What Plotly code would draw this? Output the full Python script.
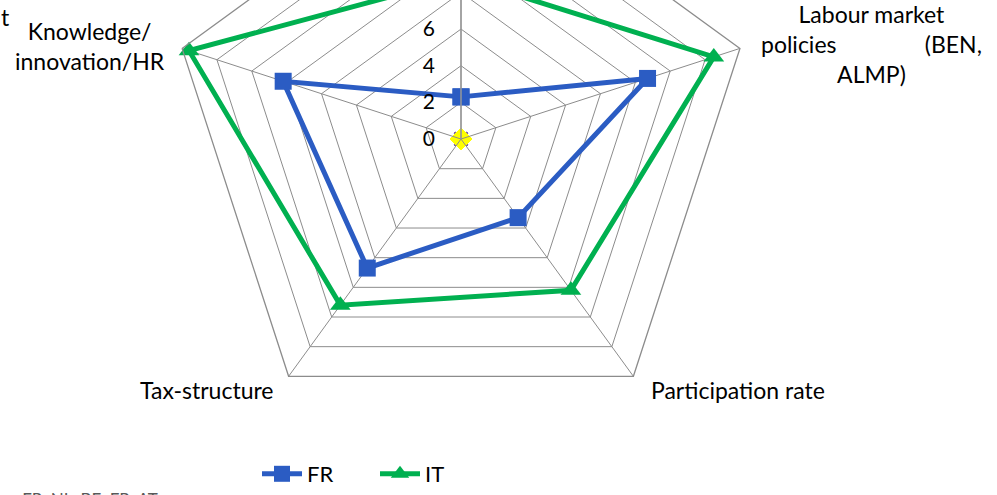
import plotly.graph_objects as go

# ---- data ----
categories = ["Wage-setting", "Labour market policies (BEN, ALMP)",
              "Participation rate", "Tax-structure", "Knowledge/innovation/HR"]
fr_values = [2.3, 10.7, 5.3, 8.7, 10.2]
it_values = [8.8, 14.5, 10.2, 11.2, 15.6]
ref_values = [0, 0, 0, 0, 0]
radial_ticks = [0, 2, 4, 6, 8, 10, 12, 14, 16]
R_MAX = 16

# category label texts as drawn (line-broken)
NB = "\u00a0"
label_texts = {
    "Labour market policies (BEN, ALMP)": "Labour market<br>policies" + NB * 15 + "(BEN,<br>ALMP)",
    "Participation rate": "Participation rate",
    "Tax-structure": "Tax-structure",
    "Knowledge/innovation/HR": "Knowledge/<br>innovation/HR",
}
# label centres in window pixels
label_pos = {
    "Labour market policies (BEN, ALMP)": (871, 45),
    "Participation rate": (738, 393),
    "Tax-structure": (207, 393),
    "Knowledge/innovation/HR": (90, 47.5),
}

OFFSET = 200          # part of the figure hidden above the window
W, H = 997, 495 + OFFSET
CX, CY, R = 461, 141 + OFFSET, 295

FONT = "Lato"
GRID = "#8c8c8c"
LBL = 23

dom_x = [(CX - R) / W, (CX + R) / W]
dom_y = [(H - CY - R) / H, (H - CY + R) / H]

def closed(v):
    return list(v) + [v[0]]

theta = closed(categories)

fig = go.Figure()
# series whose values are all zero sit at the chart centre; they are drawn on
# hidden cartesian axes that share the radar's centre and scale
fig.add_trace(go.Scatter(
    x=ref_values, y=ref_values, mode="markers", cliponaxis=False,
    marker=dict(symbol="x-thin-open", size=13, color="#7f63a8",
                line=dict(color="#7f63a8", width=2)),
    showlegend=False, hoverinfo="skip"))
fig.add_trace(go.Scatter(
    x=ref_values, y=ref_values, mode="markers", cliponaxis=False,
    marker=dict(symbol="diamond", size=17, color="#ffff00"),
    showlegend=False, hoverinfo="skip"))
fig.add_trace(go.Scatterpolar(
    r=closed(fr_values), theta=theta, name="FR", mode="lines+markers",
    line=dict(color="#2b5cc3", width=5),
    marker=dict(symbol="square", size=17, color="#2b5cc3")))
fig.add_trace(go.Scatterpolar(
    r=closed(it_values), theta=theta, name="IT", mode="lines+markers",
    line=dict(color="#00b050", width=5),
    marker=dict(symbol="triangle-up", size=18, color="#00b050")))

annotations = []
for cat, txt in label_texts.items():
    px, py = label_pos[cat]
    annotations.append(dict(
        text=txt, xref="paper", yref="paper", x=px / W, y=(H - (py + OFFSET)) / H,
        xanchor="center", yanchor="middle", align="center", showarrow=False,
        font=dict(size=LBL, family=FONT, color="#000000")))
annotations.append(dict(
    text="t", xref="paper", yref="paper", x=-1 / W, xanchor="left",
    y=(H - (18 + OFFSET)) / H, yanchor="middle", showarrow=False,
    font=dict(size=LBL, family=FONT, color="#000000")))
annotations.append(dict(
    text=", FR, NL, BE, FR, AT", xref="paper", yref="paper",
    x=12 / W, xanchor="left", y=0, yanchor="top", yshift=4,
    showarrow=False, font=dict(size=17, family=FONT, color="#595959")))

fig.update_layout(
    width=W, height=H,
    margin=dict(l=0, r=0, t=0, b=0),
    paper_bgcolor="white", plot_bgcolor="rgba(0,0,0,0)",
    font=dict(family=FONT, size=20, color="#000000"),
    xaxis=dict(domain=dom_x, range=[-R_MAX, R_MAX], visible=False, fixedrange=True),
    yaxis=dict(domain=dom_y, range=[-R_MAX, R_MAX], visible=False, fixedrange=True),
    polar=dict(
        domain=dict(x=dom_x, y=dom_y),
        gridshape="linear",
        bgcolor="rgba(0,0,0,0)",
        radialaxis=dict(range=[0, R_MAX], tickvals=radial_ticks, angle=90,
                        tickangle=90, side="counterclockwise",
                        showline=True, linecolor="#999999", linewidth=1.5,
                        gridcolor=GRID, gridwidth=1.3,
                        ticks="outside", ticklen=18, tickcolor="rgba(0,0,0,0)",
                        tickfont=dict(size=21, family=FONT, color="#000000")),
        angularaxis=dict(rotation=90, direction="clockwise",
                         showline=True, linecolor=GRID, linewidth=1.3,
                         gridcolor=GRID, gridwidth=1.3, ticks="",
                         showticklabels=False),
    ),
    showlegend=True,
    legend=dict(orientation="h", x=(262 - 5) / W, xanchor="left",
                y=(H - (478 + OFFSET)) / H, yanchor="middle",
                font=dict(size=22, family=FONT, color="#000000"),
                entrywidth=63, itemwidth=40, bgcolor="rgba(0,0,0,0)"),
    annotations=annotations,
)

post = ("var d=document.getElementById('{plot_id}');"
        "d.style.marginTop='-%dpx';"
        "document.body.style.margin='0';"
        "document.body.style.overflow='hidden';" % OFFSET)
fig.write_html("out.html", post_script=post)
